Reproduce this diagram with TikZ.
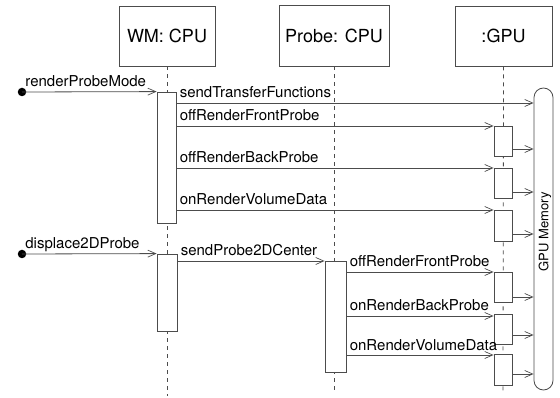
\documentclass[tikz,border=0pt]{standalone}
\usepackage{fontspec}
\setmainfont{TeX Gyre Heros}
\usetikzlibrary{arrows.meta}
\definecolor{ln}{gray}{0.3}
\tikzset{
  obj/.style={draw=ln, line width=0.8pt, fill=white, inner sep=0, font=\fontsize{18}{20}\selectfont},
  act/.style={draw=ln, line width=0.8pt, fill=white, inner sep=0, minimum width=19pt},
  life/.style={draw=ln, line width=0.8pt, dash pattern=on 4pt off 4pt},
  msg/.style={draw=ln, line width=0.8pt, -{Straight Barb[length=8pt,width=7pt,line width=0.7pt]}},
  lbl/.style={anchor=base west, inner sep=0, xshift=3pt, yshift=5pt, font=\fontsize{15}{17}\selectfont, text=black},
  startdot/.style={circle, fill=black, inner sep=0, minimum size=8.5pt}
}
\begin{document}
\begin{tikzpicture}[x=1pt, y=-1pt]
\useasboundingbox (0,0) rectangle (560,398);
% objects
\node[obj, minimum width=96pt, minimum height=60pt] (wm) at (167,36) {WM: CPU};
\node[obj, minimum width=110pt, minimum height=61pt] (probe) at (334,35.5) {Probe: CPU};
\node[obj, minimum width=97pt, minimum height=60pt] (gpu) at (503.5,36) {:GPU};
% lifeline ends
\coordinate (wmEnd) at (167,396);
\coordinate (prEnd) at (334,393);
\coordinate (gpEnd) at (503,393);
\draw[life] (wm.south) -- (wmEnd);
\draw[life] (probe.south) -- (prEnd);
\draw[life] (gpu.south) -- (gpEnd);
% GPU memory
\node[draw=ln, line width=0.8pt, fill=white, rounded corners=9.5pt, minimum width=19pt, minimum height=302pt, inner sep=0] (mem) at (543.5,239) {};
\node[rotate=90, font=\fontsize{13}{15}\selectfont, inner sep=0] (memlbl) at (545,232) {GPU Memory};
% activations
\node[act, minimum height=131pt] (wmA1) at (166.5,157.5) {};
\node[act, minimum width=20pt, minimum height=77pt] (wmA2) at (167,292.5) {};
\node[act, minimum width=21pt, minimum height=111pt] (prA) at (335.5,316.5) {};
\node[act, minimum width=18pt, minimum height=30pt] (gA1) at (503,141) {};
\node[act, minimum width=18pt, minimum height=30pt] (gA2) at (503,183) {};
\node[act, minimum width=18pt, minimum height=31pt] (gA3) at (503,225.5) {};
\node[act, minimum width=18pt, minimum height=30pt] (gA4) at (503,287) {};
\node[act, minimum width=18pt, minimum height=30pt] (gA5) at (503,329) {};
\node[act, minimum width=18pt, minimum height=31pt] (gA6) at (503,369.5) {};
% start points
\node[startdot] (s1) at (22,92) {};
\node[startdot] (s2) at (22,254) {};
% message levels
\coordinate (y1) at (0,103);
\coordinate (y2) at (0,126);
\coordinate (y3) at (0,168);
\coordinate (y4) at (0,210);
\coordinate (y5) at (0,261);
\coordinate (y6) at (0,272);
\coordinate (y7) at (0,316);
\coordinate (y8) at (0,355);
% incoming calls
\draw[msg] (s1.center) -- node[lbl, pos=0] {renderProbeMode} (wmA1.north west);
\draw[msg] (s2.center) -- node[lbl, pos=0] {displace2DProbe} (wmA2.north west);
% WM messages
\draw[msg] (wmA1.east |- y1) -- node[lbl, pos=0] {sendTransferFunctions} (mem.west |- y1);
\draw[msg] (wmA1.east |- y2) -- node[lbl, pos=0] {offRenderFrontProbe} (gA1.west |- y2);
\draw[msg] (wmA1.east |- y3) -- node[lbl, pos=0] {offRenderBackProbe} (gA2.west |- y3);
\draw[msg] (wmA1.east |- y4) -- node[lbl, pos=0] {onRenderVolumeData} (gA3.west |- y4);
\draw[msg] (wmA2.east |- y5) -- node[lbl, pos=0] {sendProbe2DCenter} (prA.west |- y5);
% Probe messages
\draw[msg] (prA.east |- y6) -- node[lbl, pos=0] {offRenderFrontProbe} (gA4.west |- y6);
\draw[msg] (prA.east |- y7) -- node[lbl, pos=0] {onRenderBackProbe} (gA5.west |- y7);
\draw[msg] (prA.east |- y8) -- node[lbl, pos=0] {onRenderVolumeData} (gA6.west |- y8);
% GPU to memory
\foreach \g/\yy in {gA1/149, gA2/192, gA3/234, gA4/297, gA5/335, gA6/374}{
  \coordinate (m\g) at (0,\yy);
  \draw[msg] (\g.east |- m\g) -- (mem.west |- m\g);
}
\end{tikzpicture}
\end{document}
